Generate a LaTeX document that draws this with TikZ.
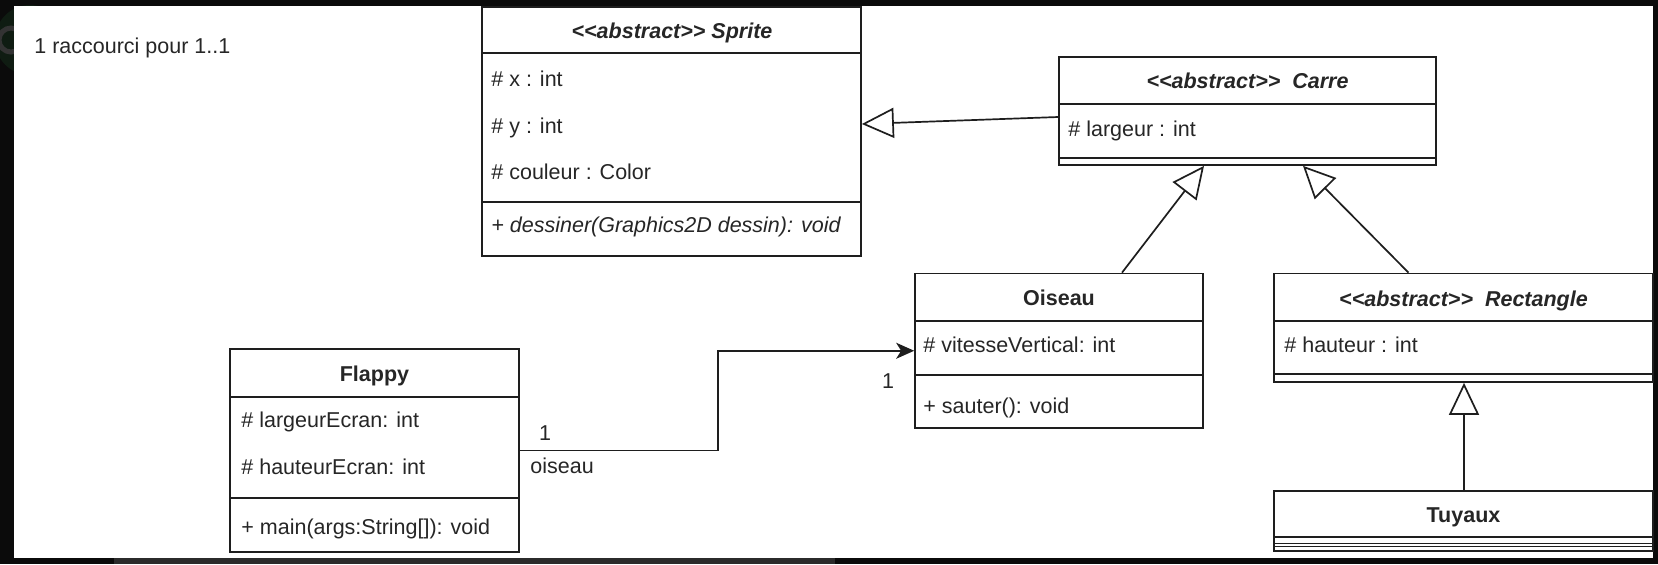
\documentclass[tikz,border=0pt]{standalone}
\usepackage{fontspec}
\setmainfont{Liberation Sans}
\usetikzlibrary{arrows.meta,fit,calc}
\definecolor{frame}{HTML}{0B0B0B}
\definecolor{band}{HTML}{2B2B2B}
\definecolor{ink}{HTML}{1E1E1E}
\definecolor{txt}{HTML}{262626}
\definecolor{halo}{HTML}{0F1C12}
\definecolor{glyph}{HTML}{333333}
\newcommand{\fsz}{\fontsize{10.75pt}{12pt}\selectfont}
\newcommand{\abst}{<\kern0pt<abstract>\kern0pt>}
\begin{document}
\begin{tikzpicture}[x=0.5pt,y=-0.5pt,
  box/.style={draw=ink, line width=0.85pt, fill=white, inner sep=0pt},
  sep/.style={draw=ink, line width=0.85pt},
  lbl/.style={inner sep=0pt, text=txt, font=\fsz, text height=7.7pt, text depth=0pt},
  attr/.style={lbl, anchor=west},
  ttl/.style={lbl, font=\fsz\bfseries},
  battl/.style={lbl, font=\fsz\bfseries\itshape},
  mttl/.style={lbl, anchor=west, font=\fsz\itshape},
  inherit/.style={draw=ink, line width=0.85pt, -{Triangle[open, length=16pt, width=15pt, fill=white]}},
  assoc/.style={draw=ink, line width=0.85pt, -{Stealth[length=9pt, width=8pt, inset=2.5pt]}},
]
\useasboundingbox (0,0) rectangle (1658,564);
% frame
\fill[frame] (0,0) rectangle (1658,564);
\fill[halo] (30,40) circle (17.5pt);
\draw[glyph, line width=2.5pt] (11,40) circle (6pt);
\fill[band] (114,557.5) rectangle (835,564);
\fill[white] (14,6) rectangle (1653,557.5);

% note
\node[attr] (note) at (34,46) {1 raccourci pour 1..1};

% Sprite
\node[box, fit={(482,7) (861,256)}] (sprite) {};
\draw[sep] (482,53) -- (861,53);
\draw[sep] (482,202) -- (861,202);
\node[battl] (spritettl) at (672,30.5) {\abst{} Sprite};
\node[attr] (sx) at (491,79) {\# x : int};
\node[attr] (sy) at (491,125.5) {\# y : int};
\node[attr] (sc) at (491,171.5) {\# couleur : Color};
\node[mttl] (sd) at (491,225) {+ dessiner(Graphics2D dessin): void};

% Carre
\node[box, fit={(1059,57) (1436,165)}] (carre) {};
\draw[sep] (1059,104) -- (1436,104);
\draw[sep] (1059,158) -- (1436,158);
\node[battl] (carrettl) at (1247.5,81) {\abst{}\ \ Carre};
\node[attr] (cl) at (1068,128.5) {\# largeur : int};

% Oiseau
\node[box, fit={(915,273.5) (1203,428)}] (oiseau) {};
\draw[sep] (915,321) -- (1203,321);
\draw[sep] (915,375) -- (1203,375);
\node[ttl] (oiseauttl) at (1059,297.5) {Oiseau};
\node[attr] (ov) at (923,344.7) {\# vitesseVertical: int};
\node[attr] (os) at (923,405.5) {+ sauter(): void};

% Rectangle
\node[box, fit={(1274,273.5) (1653,382)}] (rect) {};
\draw[sep] (1274,321) -- (1653,321);
\draw[sep] (1274,374) -- (1653,374);
\node[battl] (rectttl) at (1463.5,298.3) {\abst{}\ \ Rectangle};
\node[attr] (rh) at (1284,345) {\# hauteur : int};

% Tuyaux
\node[box, fit={(1274,491) (1653,551)}] (tuyaux) {};
\draw[sep] (1274,537) -- (1653,537);
\draw[sep] (1274,543.5) -- (1653,543.5);
\draw[sep] (1274,546.5) -- (1653,546.5);
\node[ttl] (tuyauxttl) at (1463.5,514.3) {Tuyaux};

% Flappy
\node[box, fit={(230,349) (519,552)}] (flappy) {};
\draw[sep] (230,397) -- (519,397);
\draw[sep] (230,498) -- (519,498);
\node[ttl] (flappyttl) at (374.5,374) {Flappy};
\node[attr] (fl) at (241,420) {\# largeurEcran: int};
\node[attr] (fh) at (241,466.5) {\# hauteurEcran: int};
\node[attr] (fm) at (241,527) {+ main(args:String[]): void};

% connectors
\draw[inherit] ([yshift=-3pt]carre.west) -- ([yshift=3.75pt]sprite.east);
\draw[inherit] ([xshift=31.5pt]oiseau.north) -- ([xshift=-21.75pt]carre.south);
\draw[inherit] ([xshift=-27.5pt]rect.north) -- ([xshift=27.75pt]carre.south);
\draw[inherit] ([xshift=0.25pt]tuyaux.north) -- ([xshift=0.25pt]rect.south);
\draw[assoc] (flappy.east) -- ++(198,0) |- (oiseau.west);

% association labels
\node[lbl] (m1) at (545,433) {1};
\node[lbl, anchor=base west] (role) at (530,473.5) {oiseau};
\node[lbl] (m2) at (888,381) {1};

% right frame edge over boxes
\fill[frame] (1653.5,0) rectangle (1658,564);
\end{tikzpicture}
\end{document}
